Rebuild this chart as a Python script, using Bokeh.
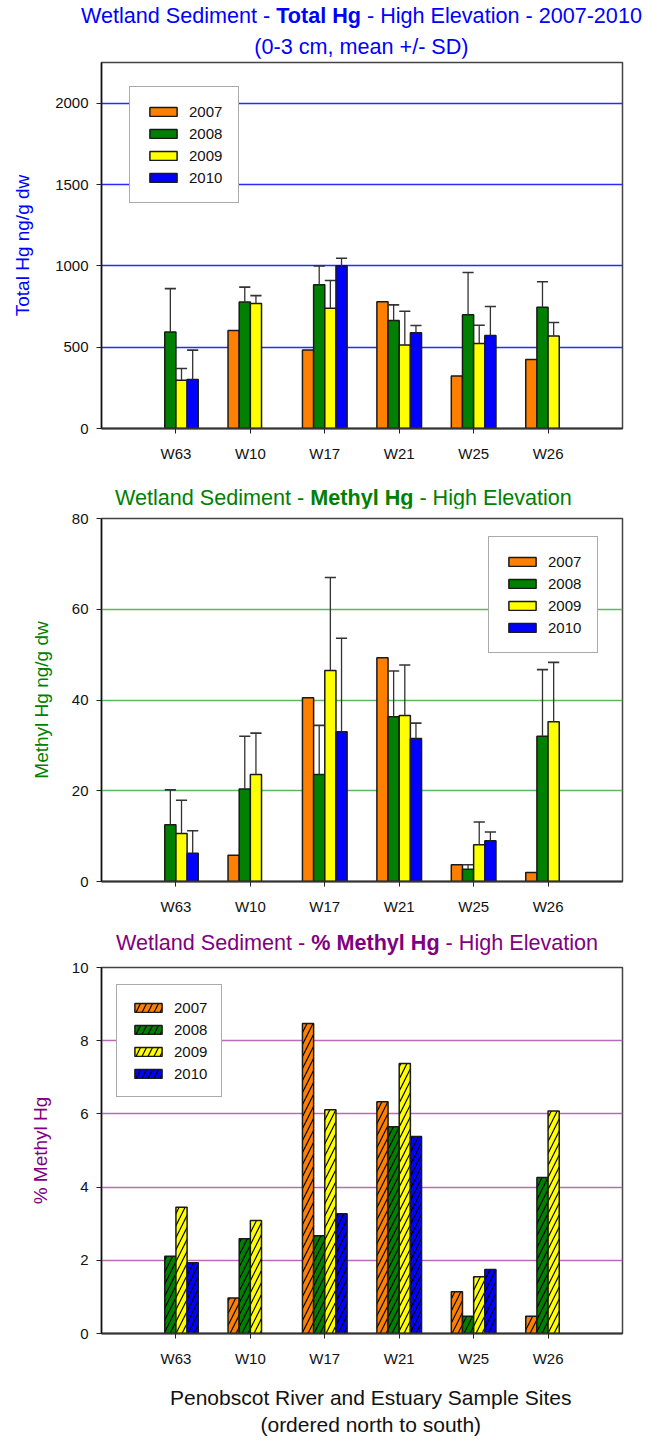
from bokeh.plotting import figure
from bokeh.models import Range1d, FixedTicker, Legend, LegendItem, ColumnDataSource, Div
from bokeh.layouts import column
from bokeh.embed import file_html
from bokeh.resources import INLINE

# ---------------- data ----------------
sites = ["W63", "W10", "W17", "W21", "W25", "W26"]
years = ["2007", "2008", "2009", "2010"]
year_colors = ["#FF8000", "#008000", "#FFFF00", "#0000FF"]

# Total Hg (ng/g dw), mean and SD
thg_2007 = [None, 602, 482, 779, 322, 424]
thg_2008 = [594, 777, 883, 664, 699, 746]
thg_2009 = [297, 768, 740, 514, 522, 568]
thg_2010 = [301, None, 1000, 588, 572, None]
thg_sd_2007 = [None, None, None, None, None, None]
thg_sd_2008 = [266, 92, 117, 96, 260, 156]
thg_sd_2009 = [72, 49, 170, 207, 113, 84]
thg_sd_2010 = [181, None, 47, 45, 178, None]

# Methyl Hg (ng/g dw), mean and SD
mhg_2007 = [None, 5.8, 40.5, 49.3, 3.7, 2.0]
mhg_2008 = [12.5, 20.4, 23.6, 36.3, 2.7, 32.0]
mhg_2009 = [10.6, 23.6, 46.5, 36.6, 8.1, 35.2]
mhg_2010 = [6.2, None, 33.0, 31.5, 9.0, None]
mhg_sd_2007 = [None, None, None, None, None, None]
mhg_sd_2008 = [7.7, 11.6, 10.8, 10.1, 1.0, 14.7]
mhg_sd_2009 = [7.3, 9.1, 20.5, 11.1, 5.0, 13.1]
mhg_sd_2010 = [5.0, None, 20.6, 3.4, 1.9, None]

# % Methyl Hg
pct_2007 = [None, 0.97, 8.47, 6.33, 1.14, 0.47]
pct_2008 = [2.11, 2.59, 2.67, 5.65, 0.47, 4.26]
pct_2009 = [3.45, 3.09, 6.11, 7.38, 1.55, 6.08]
pct_2010 = [1.93, None, 3.27, 5.38, 1.75, None]

thg_ticks = [0, 500, 1000, 1500, 2000]
mhg_ticks = [0, 20, 40, 60, 80]
pct_ticks = [0, 2, 4, 6, 8, 10]

# ---------------- layout constants ----------------
FONT = "Liberation Sans"
W = 640
FL = 101         # frame left offset
FW = 521         # frame width
XMAX = 7
OFFSETS = [-0.225, -0.075, 0.075, 0.225]
BAR_W = 0.15


def make_fig(height, top_b, frame_h, ymax, ticks, grid_color, means, sds, hatch,
             legend_xy, legend_pad, ylabel, ylabel_color, ylabel_standoff):
    bottom_b = height - top_b - frame_h
    p = figure(width=W, height=height, x_range=Range1d(0, XMAX), y_range=Range1d(0, ymax),
               output_backend="svg", toolbar_location=None, title=None,
               min_border_left=FL, min_border_right=W - FL - FW,
               min_border_top=top_b, min_border_bottom=bottom_b)
    p.background_fill_color = "white"
    p.border_fill_color = "white"
    p.outline_line_color = "#444444"
    p.outline_line_width = 1.5
    p.xgrid.visible = False
    p.ygrid.grid_line_color = grid_color
    p.ygrid.grid_line_width = 1.3
    p.yaxis.ticker = FixedTicker(ticks=ticks)
    p.xaxis.ticker = FixedTicker(ticks=list(range(1, len(sites) + 1)))
    p.xaxis.major_label_overrides = {i + 1: s for i, s in enumerate(sites)}
    for ax in (p.xaxis[0], p.yaxis[0]):
        ax.minor_tick_line_color = None
        ax.major_tick_in = 0
        ax.major_tick_out = 5
        ax.major_label_text_font = FONT
        ax.major_label_text_font_size = "15px"
        ax.major_label_text_color = "#111111"
        ax.major_tick_line_color = "#222222"
    p.yaxis.axis_line_color = "#111111"
    p.yaxis.axis_line_width = 1.5
    p.yaxis.major_label_standoff = 8
    p.yaxis.axis_label = ylabel
    p.yaxis.axis_label_text_color = ylabel_color
    p.yaxis.axis_label_text_font = FONT
    p.yaxis.axis_label_text_font_size = "19px"
    p.yaxis.axis_label_text_font_style = "normal"
    p.yaxis.axis_label_standoff = ylabel_standoff
    p.xaxis.axis_line_color = "#333333"
    p.xaxis.axis_line_width = 2
    p.xaxis.major_label_standoff = 11

    items = []
    for j, (vals, errs) in enumerate(zip(means, sds)):
        xs, tops, es = [], [], []
        for i, v in enumerate(vals):
            if v is None:
                continue
            xs.append(i + 1 + OFFSETS[j])
            tops.append(v)
            es.append(errs[i] if errs is not None else None)
        src = ColumnDataSource(dict(x=xs, top=tops))
        kw = {}
        if hatch:
            kw = dict(hatch_pattern="/", hatch_scale=12, hatch_color="black", hatch_weight=1.2)
        r = p.vbar(x="x", top="top", width=BAR_W, bottom=0, source=src,
                   fill_color=year_colors[j], line_color="#1a1a1a", line_width=1.5, **kw)
        items.append(LegendItem(label=years[j], renderers=[r]))
        ex = [x for x, e in zip(xs, es) if e is not None]
        ey0 = [t for t, e in zip(tops, es) if e is not None]
        ey1 = [t + e for t, e in zip(tops, es) if e is not None]
        if ex:
            esrc = ColumnDataSource(dict(x=ex, y0=ey0, y1=ey1,
                                         xa=[x - BAR_W / 2 for x in ex],
                                         xb=[x + BAR_W / 2 for x in ex]))
            p.segment(x0="x", y0="y0", x1="x", y1="y1", source=esrc,
                      line_color="#333333", line_width=1.3)
            p.segment(x0="xa", y0="y1", x1="xb", y1="y1", source=esrc,
                      line_color="#333333", line_width=1.6)

    lg = Legend(items=items, location=legend_xy, margin=0, padding=legend_pad,
                border_line_color="#555555", border_line_width=1.5,
                background_fill_color="white", background_fill_alpha=1.0,
                label_text_font=FONT, label_text_font_size="15px", label_text_color="#111111",
                glyph_width=34, glyph_height=11, label_height=17, spacing=5,
                label_standoff=9)
    p.add_layout(lg)
    return p


def text_block(html, height, color, pad_left, pad_top, line_h, size="21.6px"):
    style = (f"font-family:'{FONT}';font-size:{size};color:{color};line-height:{line_h}px;"
             f"padding-left:{pad_left}px;padding-top:{pad_top}px;text-align:center;"
             f"white-space:nowrap;margin:0;")
    return Div(text=f'<div style="{style}">{html}</div>', width=W, height=height, margin=0)


BLUE = "#0000FF"
GREEN = "#008000"
PURPLE = "#800080"

t1 = text_block("Wetland Sediment - <b>Total Hg</b> - High Elevation - 2007-2010<br>"
                "(0-3 cm, mean +/- SD)", 58, BLUE, 81, 0, 31)
p1 = make_fig(420, 4, 366, 2250, thg_ticks, "#2a2aff",
              [thg_2007, thg_2008, thg_2009, thg_2010],
              [thg_sd_2007, thg_sd_2008, thg_sd_2009, thg_sd_2010],
              False, (28, 225), 16, "Total Hg ng/g dw", BLUE, 19)

t2 = text_block("Wetland Sediment - <b>Methyl Hg</b> - High Elevation", 30, GREEN, 115, 10, 20)
p2 = make_fig(422, 10, 363, 80, mhg_ticks, "#5cb85c",
              [mhg_2007, mhg_2008, mhg_2009, mhg_2010],
              [mhg_sd_2007, mhg_sd_2008, mhg_sd_2009, mhg_sd_2010],
              False, (387, 228), 16, "Methyl Hg ng/g dw", GREEN, 17)

t3 = text_block("Wetland Sediment - <b>% Methyl Hg</b> - High Elevation", 27, PURPLE, 116, 3, 20)
p3 = make_fig(423, 10, 366, 10, pct_ticks, "#b86cb8",
              [pct_2007, pct_2008, pct_2009, pct_2010],
              [None, None, None, None],
              True, (15, 236), 14, "% Methyl Hg", PURPLE, 18)

t4 = text_block("Penobscot River and Estuary Sample Sites<br>(ordered north to south)",
                56, "#111111", 170, 4, 27, size="21px")

layout = column(t1, p1, t2, p2, t3, p3, t4, spacing=0)
open("out.html", "w").write(file_html(layout, INLINE))
